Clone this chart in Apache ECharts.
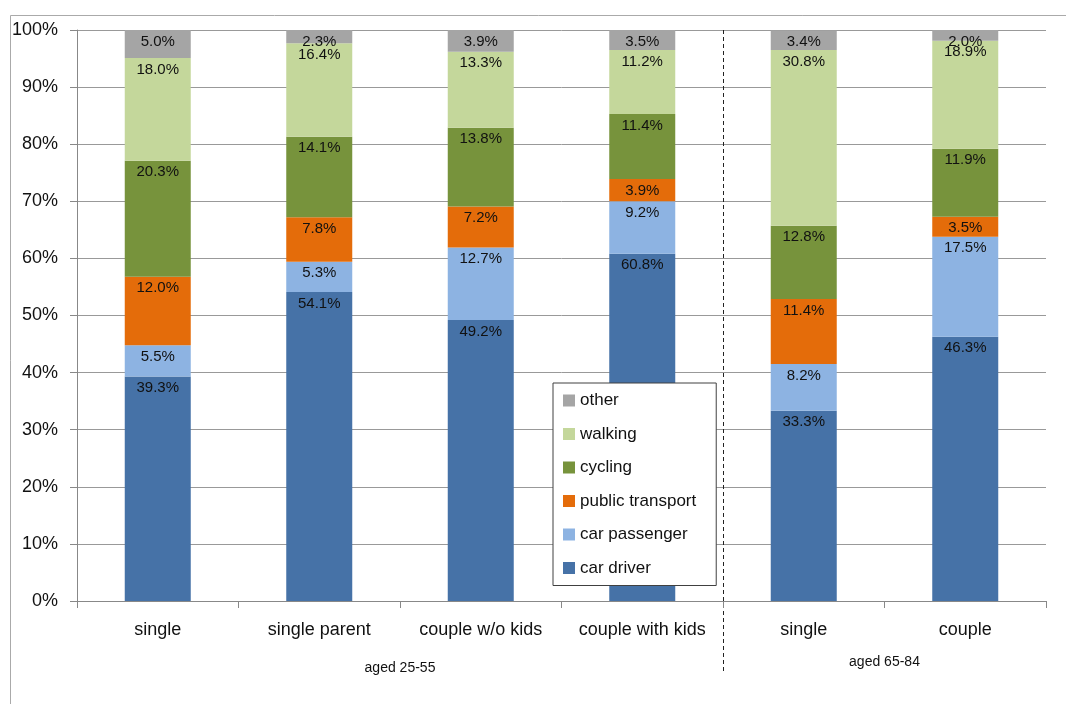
<!DOCTYPE html>
<html>
<head>
<meta charset="utf-8">
<script src="https://cdn.jsdelivr.net/npm/echarts@6/dist/echarts.min.js"></script>
<style>
html,body{margin:0;padding:0;background:#fff;}
#chart{width:1066px;height:704px;}
</style>
</head>
<body>
<div id="chart"></div>
<script>
const categories = ['single', 'single parent', 'couple w/o kids', 'couple with kids', 'single', 'couple'];
const groupLabels = ['aged 25-55', 'aged 65-84'];
const groupSpans = [[0, 3], [4, 5]];
const yTicks = [0, 10, 20, 30, 40, 50, 60, 70, 80, 90, 100];

const carDriver      = [39.3, 54.1, 49.2, 60.8, 33.3, 46.3];
const carPassenger   = [5.5, 5.3, 12.7, 9.2, 8.2, 17.5];
const publicTransport= [12.0, 7.8, 7.2, 3.9, 11.4, 3.5];
const cycling        = [20.3, 14.1, 13.8, 11.4, 12.8, 11.9];
const walking        = [18.0, 16.4, 13.3, 11.2, 30.8, 18.9];
const other          = [5.0, 2.3, 3.9, 3.5, 3.4, 2.0];

const seriesNames = ['car driver', 'car passenger', 'public transport', 'cycling', 'walking', 'other'];
const seriesData = [carDriver, carPassenger, publicTransport, cycling, walking, other];
const colors = ['#4672A7', '#8DB3E2', '#E46C0A', '#77933C', '#C4D79B', '#A5A5A5'];

const FONT = "'Liberation Sans', Arial, sans-serif";
const chart = echarts.init(document.getElementById('chart'));

const series = seriesNames.map((name, i) => ({
  name: name,
  type: 'bar',
  stack: 'total',
  barWidth: 66,
  itemStyle: { color: colors[i] },
  label: {
    show: true,
    position: 'insideTop',
    distance: 4,
    color: '#111',
    fontSize: 15,
    fontFamily: FONT,
    formatter: p => p.value.toFixed(1) + '%'
  },
  data: seriesData[i]
}));

chart.setOption({
  animation: false,
  backgroundColor: '#fff',
  color: colors,
  grid: { left: 77, right: 20, top: 30, bottom: 103, containLabel: false },
  legend: {
    data: ['other', 'walking', 'cycling', 'public transport', 'car passenger', 'car driver'],
    orient: 'vertical',
    left: 553,
    top: 383,
    itemWidth: 12,
    itemHeight: 12,
    itemGap: 16.5,
    icon: 'rect',
    padding: [9, 20, 9, 10],
    backgroundColor: '#fff',
    borderColor: '#404040',
    borderWidth: 1,
    textStyle: { fontSize: 17, color: '#111', fontFamily: FONT }
  },
  xAxis: {
    type: 'category',
    data: categories,
    axisLine: { show: true, lineStyle: { color: '#888', width: 1 } },
    axisTick: { show: true, length: 7, interval: 0, lineStyle: { color: '#888' } },
    axisLabel: { interval: 0, fontSize: 18, color: '#111', fontFamily: FONT, margin: 20 }
  },
  yAxis: {
    type: 'value',
    min: 0,
    max: 100,
    interval: 10,
    axisLine: { show: true, lineStyle: { color: '#888', width: 1 } },
    axisTick: { show: true, length: 7, lineStyle: { color: '#888' } },
    splitLine: { show: true, lineStyle: { color: '#999', width: 1 } },
    axisLabel: { fontSize: 18, color: '#111', fontFamily: FONT, margin: 19, formatter: v => yTicks.includes(v) ? v + '%' : '' }
  },
  series: series
});

// annotations: outer frame, group separator, group labels
const half = (chart.convertToPixel({ xAxisIndex: 0 }, 1) - chart.convertToPixel({ xAxisIndex: 0 }, 0)) / 2;
const sepX = Math.round(chart.convertToPixel({ xAxisIndex: 0 }, 3) + half) + 0.5;
const topY = chart.convertToPixel({ yAxisIndex: 0 }, 100);
const groupY = [668, 662];
const graphics = [
  { type: 'rect', shape: { x: 10.5, y: 15.5, width: 1100, height: 800 }, style: { fill: 'none', stroke: '#aaa', lineWidth: 1 }, silent: true },
  { type: 'line', shape: { x1: sepX, y1: topY, x2: sepX, y2: 673 }, style: { stroke: '#222', lineWidth: 1, lineDash: [4, 3] }, silent: true }
];
groupLabels.forEach((g, i) => {
  const a = chart.convertToPixel({ xAxisIndex: 0 }, groupSpans[i][0]) - half;
  const b = chart.convertToPixel({ xAxisIndex: 0 }, groupSpans[i][1]) + half;
  graphics.push({
    type: 'text',
    x: (a + b) / 2,
    y: groupY[i],
    style: { text: g, fontSize: 14, fontFamily: FONT, fill: '#111', align: 'center', verticalAlign: 'middle' },
    silent: true
  });
});
chart.setOption({ graphic: graphics });
</script>
</body>
</html>
